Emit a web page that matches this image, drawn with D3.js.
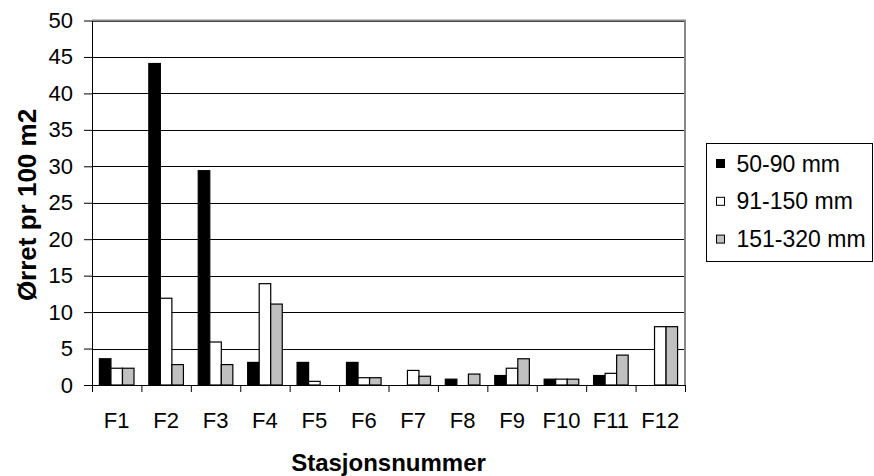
<!DOCTYPE html>
<html>
<head>
<meta charset="utf-8">
<script src="https://cdn.jsdelivr.net/npm/d3@7"></script>
<style>
  body { margin: 0; background: #fff; }
  svg text { font-family: "Liberation Sans", Arial, sans-serif; fill: #000; }
</style>
</head>
<body>
<div id="chart"></div>
<script>
var stations = ["F1", "F2", "F3", "F4", "F5", "F6", "F7", "F8", "F9", "F10", "F11", "F12"];
var seriesNames = ["50-90 mm", "91-150 mm", "151-320 mm"];
var small  = [3.6, 44.1, 29.4, 3.1, 3.1, 3.1, 0, 0.8, 1.3, 0.8, 1.3, 0];
var medium = [2.3, 11.9, 5.9, 13.9, 0.5, 1.0, 2.0, 0, 2.3, 0.8, 1.6, 8.0];
var large  = [2.3, 2.8, 2.8, 11.1, 0, 1.0, 1.2, 1.5, 3.6, 0.8, 4.1, 8.0];
var yTicks = [0, 5, 10, 15, 20, 25, 30, 35, 40, 45, 50];
var colors = ["#000000", "#ffffff", "#c0c0c0"];

var svgWidth = 874, svgHeight = 476;
var margin = {top: 20.5, left: 92, right: 189, bottom: 91};
var width = svgWidth - margin.left - margin.right,
    height = svgHeight - margin.top - margin.bottom;

var svg = d3.select("#chart").append("svg")
    .attr("width", svgWidth)
    .attr("height", svgHeight);

var g = svg.append("g")
    .attr("transform", `translate(${margin.left}, ${margin.top})`);

var x = d3.scaleBand()
    .domain(stations)
    .range([0, width])
    .paddingInner(0.3)
    .paddingOuter(0.15);

var xs = d3.scaleBand()
    .domain(seriesNames)
    .range([0, x.bandwidth()]);

var xb = d3.scaleLinear()
    .domain([0, stations.length])
    .range([0, width]);

var y = d3.scaleLinear()
    .domain([0, 50])
    .range([height, 0]);

// gridlines
g.append("g")
    .attr("class", "grid")
    .call(d3.axisLeft(y).tickValues(yTicks).tickSize(-width).tickFormat(""))
    .call(s => s.select(".domain").remove())
    .call(s => s.selectAll("line").attr("stroke", "#000").attr("shape-rendering", "crispEdges"));

// plot border top/right
g.append("line")
    .attr("x1", 0).attr("x2", width + 1)
    .attr("y1", 0).attr("y2", 0)
    .attr("stroke", "#888").attr("stroke-width", 2);
g.append("line")
    .attr("x1", width).attr("x2", width)
    .attr("y1", 0).attr("y2", height)
    .attr("stroke", "#888").attr("stroke-width", 2);

var rows = stations.map((s, i) => ({station: s, values: [small[i], medium[i], large[i]]}));

var groups = g.selectAll(".group")
    .data(rows)
    .enter().append("g")
    .attr("class", "group")
    .attr("transform", d => `translate(${x(d.station)}, 0)`);

groups.selectAll("rect")
    .data(d => d.values.map((v, k) => ({name: seriesNames[k], v: v, k: k})).filter(e => e.v > 0))
    .enter().append("rect")
    .attr("x", d => xs(d.name))
    .attr("y", d => y(d.v))
    .attr("width", xs.bandwidth())
    .attr("height", d => y(0) - y(d.v))
    .attr("fill", d => colors[d.k])
    .attr("stroke", "#000")
    .attr("stroke-width", 1.2);

// y axis
g.append("g")
    .attr("class", "y axis")
    .call(d3.axisLeft(y).tickValues(yTicks).tickSize(8).tickPadding(11).tickSizeOuter(0))
    .call(s => s.selectAll("text").style("font-size", "22px"))
    .call(s => s.selectAll("line, path").attr("stroke", "#000"));

// x axis boundary ticks
g.append("g")
    .attr("transform", `translate(0, ${height})`)
    .call(d3.axisBottom(xb).ticks(stations.length).tickSize(7).tickFormat("").tickSizeOuter(0))
    .call(s => s.selectAll("line, path").attr("stroke", "#000"));

// x axis labels
g.append("g")
    .attr("transform", `translate(0, ${height})`)
    .call(d3.axisBottom(x).tickSize(0).tickPadding(27))
    .call(s => s.select(".domain").remove())
    .call(s => s.selectAll("text").style("font-size", "22px"));

// axis titles
svg.append("text")
    .attr("transform", `translate(36, 205) rotate(-90)`)
    .attr("text-anchor", "middle")
    .style("font-size", "26px")
    .style("font-weight", "bold")
    .text("Ørret pr 100 m2");

svg.append("text")
    .attr("x", margin.left + width / 2)
    .attr("y", 470.5)
    .attr("text-anchor", "middle")
    .style("font-size", "24px")
    .style("font-weight", "bold")
    .text("Stasjonsnummer");

// legend
var legend = svg.append("g")
    .attr("transform", "translate(706.5, 143.5)");

legend.append("rect")
    .attr("width", 166)
    .attr("height", 118)
    .attr("fill", "#fff")
    .attr("stroke", "#000")
    .attr("stroke-width", 1);

var items = legend.selectAll(".item")
    .data(seriesNames)
    .enter().append("g")
    .attr("class", "item")
    .attr("transform", (d, i) => `translate(10, ${20 + i * 37.8})`);

items.append("rect")
    .attr("x", 0).attr("y", -4)
    .attr("width", 8).attr("height", 8)
    .attr("fill", (d, i) => colors[i])
    .attr("stroke", "#000")
    .attr("stroke-width", 1);

items.append("text")
    .attr("x", 20)
    .attr("dy", "0.35em")
    .style("font-size", "23px")
    .text(d => d);
</script>
</body>
</html>
